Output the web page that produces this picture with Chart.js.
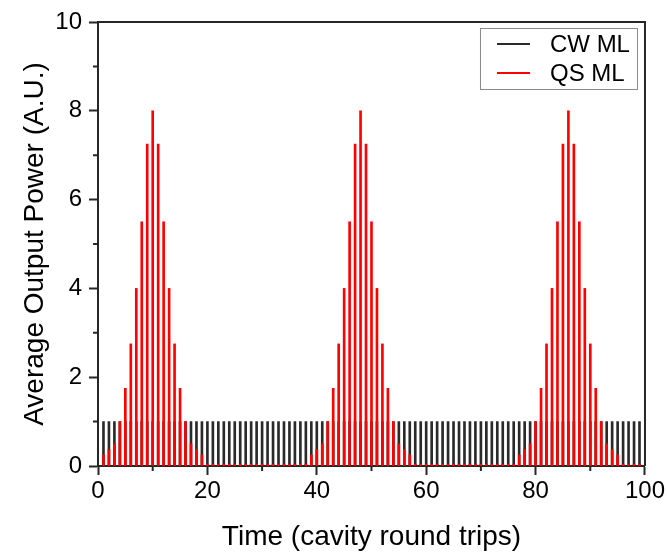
<!DOCTYPE html>
<html>
<head>
<meta charset="utf-8">
<script src="https://cdn.jsdelivr.net/npm/chart.js@4.4.1/dist/chart.umd.min.js"></script>
<style>
  html, body { margin: 0; padding: 0; background: #ffffff; }
  #wrap { width: 667px; height: 554px; }
</style>
</head>
<body>
<div id="wrap"><canvas id="chart" width="667" height="554"></canvas></div>
<script>
// Cavity round-trip index for each pulse
const roundTrips = [
  1, 2, 3, 4, 5, 6, 7, 8, 9, 10, 11, 12, 13, 14, 15, 16, 17, 18, 19, 20,
  21, 22, 23, 24, 25, 26, 27, 28, 29, 30, 31, 32, 33, 34, 35, 36, 37, 38, 39, 40,
  41, 42, 43, 44, 45, 46, 47, 48, 49, 50, 51, 52, 53, 54, 55, 56, 57, 58, 59, 60,
  61, 62, 63, 64, 65, 66, 67, 68, 69, 70, 71, 72, 73, 74, 75, 76, 77, 78, 79, 80,
  81, 82, 83, 84, 85, 86, 87, 88, 89, 90, 91, 92, 93, 94, 95, 96, 97, 98, 99
];

// Continuous-wave mode locking: constant pulse power
const cwPower = [
  1, 1, 1, 1, 1, 1, 1, 1, 1, 1, 1, 1, 1, 1, 1, 1, 1, 1, 1, 1,
  1, 1, 1, 1, 1, 1, 1, 1, 1, 1, 1, 1, 1, 1, 1, 1, 1, 1, 1, 1,
  1, 1, 1, 1, 1, 1, 1, 1, 1, 1, 1, 1, 1, 1, 1, 1, 1, 1, 1, 1,
  1, 1, 1, 1, 1, 1, 1, 1, 1, 1, 1, 1, 1, 1, 1, 1, 1, 1, 1, 1,
  1, 1, 1, 1, 1, 1, 1, 1, 1, 1, 1, 1, 1, 1, 1, 1, 1, 1, 1
];

// Q-switched mode locking: pulse trains under a Q-switch envelope
const qsPower = [
  0.25, 0.37, 0.5, 1.0, 1.75, 2.75, 4.0, 5.5, 7.25, 8.0,
  7.25, 5.5, 4.0, 2.75, 1.75, 1.0, 0.5, 0.37, 0.25,
  0.04, 0.04, 0.04, 0.04, 0.04, 0.04, 0.04, 0.04, 0.04, 0.04,
  0.04, 0.04, 0.04, 0.04, 0.04, 0.04, 0.04, 0.04, 0.04,
  0.25, 0.37, 0.5, 1.0, 1.75, 2.75, 4.0, 5.5, 7.25, 8.0,
  7.25, 5.5, 4.0, 2.75, 1.75, 1.0, 0.5, 0.37, 0.25,
  0.04, 0.04, 0.04, 0.04, 0.04, 0.04, 0.04, 0.04, 0.04, 0.04,
  0.04, 0.04, 0.04, 0.04, 0.04, 0.04, 0.04, 0.04, 0.04,
  0.25, 0.37, 0.5, 1.0, 1.75, 2.75, 4.0, 5.5, 7.25, 8.0,
  7.25, 5.5, 4.0, 2.75, 1.75, 1.0, 0.5, 0.37, 0.25,
  0.04, 0.04, 0.04, 0.04
];

const xMajorTicks = [0, 20, 40, 60, 80, 100];
const xMinorTicks = [10, 30, 50, 70, 90];
const yMajorTicks = [0, 2, 4, 6, 8, 10];
const yMinorTicks = [1, 3, 5, 7, 9];

const FONT = "'Liberation Sans', Arial, sans-serif";
const AXIS_COLOR = '#262626';
const CW_COLOR = '#2a2a2a';
const QS_COLOR = '#ff0000';

// Minor ticks, closing frame and boxed legend
const decorations = {
  id: 'decorations',
  afterDatasetsDraw(chart) {
    const { ctx, chartArea: a, scales: { x, y } } = chart;
    ctx.save();
    ctx.strokeStyle = AXIS_COLOR;
    ctx.lineWidth = 2;
    ctx.beginPath();
    ctx.moveTo(a.left, a.top);
    ctx.lineTo(a.right, a.top);
    ctx.lineTo(a.right, a.bottom);
    ctx.stroke();
    ctx.beginPath();
    xMinorTicks.forEach(v => {
      const px = x.getPixelForValue(v);
      ctx.moveTo(px, a.bottom);
      ctx.lineTo(px, a.bottom + 5);
    });
    yMinorTicks.forEach(v => {
      const py = y.getPixelForValue(v);
      ctx.moveTo(a.left, py);
      ctx.lineTo(a.left - 5, py);
    });
    ctx.stroke();

    // legend
    const bx = a.right - 165, by = a.top + 6, bw = 157, bh = 61;
    ctx.strokeStyle = '#8a8a8a';
    ctx.lineWidth = 1;
    ctx.strokeRect(bx + 0.5, by + 0.5, bw, bh);
    const rows = [by + 16, by + 45];
    chart.data.datasets.forEach((ds, i) => {
      const ry = rows[i];
      ctx.strokeStyle = ds.backgroundColor;
      ctx.lineWidth = 2;
      ctx.beginPath();
      ctx.moveTo(bx + 17, ry);
      ctx.lineTo(bx + 50, ry);
      ctx.stroke();
      ctx.fillStyle = '#000';
      ctx.font = '24px ' + FONT;
      ctx.textBaseline = 'middle';
      ctx.textAlign = 'left';
      ctx.fillText(ds.label, bx + 70, ry + 1);
    });
    ctx.restore();
  }
};

const toPoints = vals => roundTrips.map((r, i) => ({ x: r, y: vals[i] }));

new Chart(document.getElementById('chart'), {
  type: 'bar',
  data: {
    datasets: [
      {
        label: 'CW ML',
        data: toPoints(cwPower),
        backgroundColor: CW_COLOR,
        barThickness: 2,
        grouped: false,
        order: 2
      },
      {
        label: 'QS ML',
        data: toPoints(qsPower),
        backgroundColor: QS_COLOR,
        barThickness: 2,
        grouped: false,
        order: 1
      }
    ]
  },
  options: {
    responsive: false,
    animation: false,
    events: [],
    layout: { padding: { left: 0, top: 22, right: 22, bottom: 0 } },
    plugins: {
      legend: { display: false },
      tooltip: { enabled: false }
    },
    scales: {
      x: {
        type: 'linear',
        min: 0,
        max: 100,
        offset: false,
        afterFit(scale) { scale.height = 88; },
        afterBuildTicks(scale) { scale.ticks = xMajorTicks.map(v => ({ value: v })); },
        grid: {
          offset: false,
          drawOnChartArea: false,
          drawTicks: true,
          tickLength: 9,
          tickWidth: 2,
          tickColor: AXIS_COLOR
        },
        border: { display: true, color: AXIS_COLOR, width: 2 },
        ticks: {
          color: '#000',
          padding: 2,
          maxRotation: 0,
          font: { family: FONT, size: 24 }
        },
        title: {
          display: true,
          text: 'Time (cavity round trips)',
          color: '#000',
          font: { family: FONT, size: 28 },
          padding: { top: 0, bottom: 0 }
        }
      },
      y: {
        type: 'linear',
        min: 0,
        max: 10,
        afterFit(scale) { scale.width = 98; },
        afterBuildTicks(scale) { scale.ticks = yMajorTicks.map(v => ({ value: v })); },
        grid: {
          drawOnChartArea: false,
          drawTicks: true,
          tickLength: 9,
          tickWidth: 2,
          tickColor: AXIS_COLOR
        },
        border: { display: true, color: AXIS_COLOR, width: 2 },
        ticks: {
          color: '#000',
          padding: 7,
          font: { family: FONT, size: 24 }
        },
        title: {
          display: true,
          text: 'Average Output Power (A.U.)',
          color: '#000',
          font: { family: FONT, size: 28 },
          padding: { top: 18, bottom: 0 }
        }
      }
    }
  },
  plugins: [decorations]
});
</script>
</body>
</html>
